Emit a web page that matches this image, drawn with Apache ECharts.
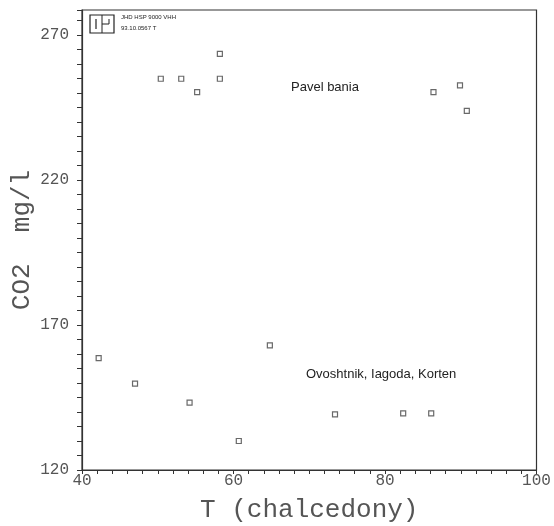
<!DOCTYPE html>
<html>
<head>
<meta charset="utf-8">
<script src="https://cdn.jsdelivr.net/npm/echarts@6/dist/echarts.min.js"></script>
<style>html,body{margin:0;padding:0;background:#fff;}#c{width:554px;height:526px;}</style>
</head>
<body>
<div id="c"></div>
<script>
const tempPavel = [50.4, 53.1, 55.2, 58.2, 58.2, 86.4, 89.9, 90.8];
const co2Pavel  = [254.9, 254.9, 250.3, 263.5, 254.9, 250.3, 252.6, 243.8];
const tempOvo   = [42.2, 47.0, 54.2, 60.7, 64.8, 73.4, 82.4, 86.1];
const co2Ovo    = [158.6, 149.8, 143.2, 130.0, 163.0, 139.2, 139.5, 139.5];
const xTicks = [40, 60, 80, 100];
const yTicks = [120, 170, 220, 270];
const labelPavel = 'Pavel bania';
const labelOvo = 'Ovoshtnik, Iagoda, Korten';
const stampLines = ['JHD HSP 9000 VHH', '93.10.0567 T'];

const chart = echarts.init(document.getElementById('c'), null, {renderer: 'canvas'});
const tickFont = {fontFamily: 'Liberation Mono', fontSize: 16, color: '#555'};
const symStyle = {color: '#fff', borderColor: '#444', borderWidth: 1.2};
chart.setOption({
  animation: false,
  backgroundColor: '#fff',
  grid: {left: 82, right: 17.5, top: 10, bottom: 56, outerBoundsMode: 'none', containLabel: false,
         show: true, borderColor: '#333', borderWidth: 1.2, backgroundColor: 'transparent'},
  xAxis: {
    type: 'value', min: 40, max: 100, interval: 20,
    name: 'T (chalcedony)', nameLocation: 'middle', nameGap: 27, nameMoveOverlap: false,
    nameTextStyle: {fontFamily: 'Liberation Mono', fontSize: 26, color: '#555'},
    axisLine: {show: true, lineStyle: {color: '#333', width: 1.2}},
    axisTick: {show: true, inside: false, length: 4, lineStyle: {color: '#333'}},
    minorTick: {show: true, splitNumber: 10, length: 4, lineStyle: {color: '#333'}},
    splitLine: {show: false},
    axisLabel: Object.assign({margin: 3, formatter: v => xTicks.includes(v) ? String(v) : ''}, tickFont)
  },
  yAxis: {
    type: 'value', min: 120, max: 278.6, interval: 50,
    name: 'CO2  mg/l', nameLocation: 'middle', nameGap: 47, nameMoveOverlap: false,
    nameTextStyle: {fontFamily: 'Liberation Mono', fontSize: 26, color: '#555'},
    axisLine: {show: true, lineStyle: {color: '#333', width: 1.2}},
    axisTick: {show: true, inside: false, length: 5, lineStyle: {color: '#333'}},
    minorTick: {show: true, splitNumber: 10, length: 5, lineStyle: {color: '#333'}},
    splitLine: {show: false},
    axisLabel: Object.assign({margin: 13, showMaxLabel: false, formatter: v => yTicks.includes(v) ? String(v) : ''}, tickFont)
  },
  series: [
    {type: 'scatter', symbol: 'rect', symbolSize: 5, itemStyle: symStyle,
     data: tempPavel.map((t, i) => [t, co2Pavel[i]])},
    {type: 'scatter', symbol: 'rect', symbolSize: 5, itemStyle: symStyle,
     data: tempOvo.map((t, i) => [t, co2Ovo[i]])}
  ],
  graphic: [
    {type: 'text', left: 291, top: 81, style: {text: labelPavel, font: '13px Liberation Sans', fill: '#222'}},
    {type: 'text', left: 306, top: 368, style: {text: labelOvo, font: '13px Liberation Sans', fill: '#222'}},
    {type: 'rect', shape: {x: 90, y: 15, width: 24, height: 18}, style: {fill: 'none', stroke: '#222', lineWidth: 1.2}},
    {type: 'line', shape: {x1: 102, y1: 15, x2: 102, y2: 33}, style: {stroke: '#222', lineWidth: 1}},
    {type: 'line', shape: {x1: 96, y1: 19, x2: 96, y2: 29}, style: {stroke: '#222', lineWidth: 1.2}},
    {type: 'line', shape: {x1: 102, y1: 24, x2: 109, y2: 24}, style: {stroke: '#222', lineWidth: 1}},
    {type: 'line', shape: {x1: 109, y1: 19, x2: 109, y2: 24}, style: {stroke: '#222', lineWidth: 1}},
    {type: 'text', left: 121, top: 14, style: {text: stampLines[0], font: '6px Liberation Sans', fill: '#222'}},
    {type: 'text', left: 121, top: 25, style: {text: stampLines[1], font: '6px Liberation Sans', fill: '#222'}}
  ]
});
</script>
</body>
</html>
